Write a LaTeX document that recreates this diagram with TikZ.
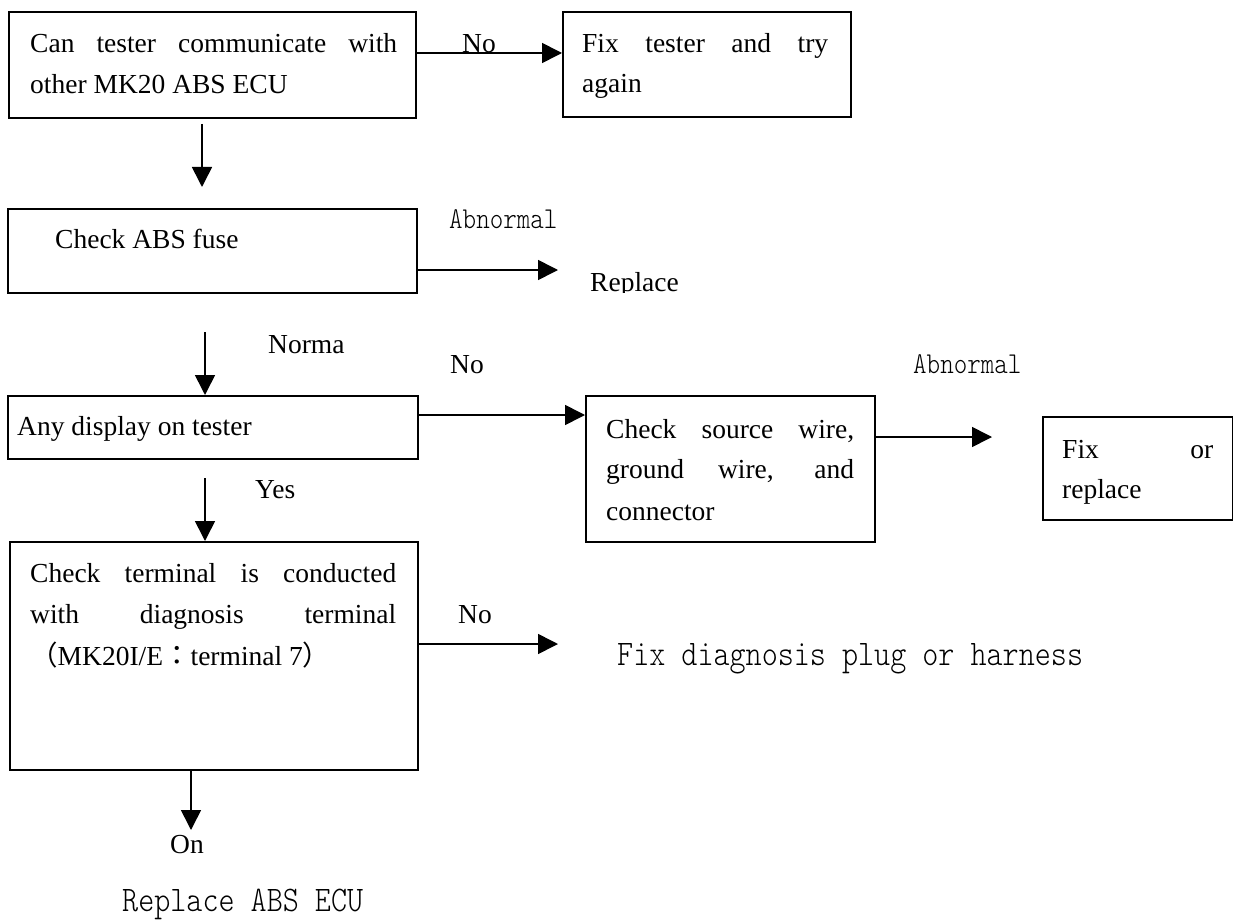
\documentclass[tikz,border=0pt]{standalone}
\usepackage{fontspec}
\setmainfont{Liberation Serif}
\newfontfamily\monof{lmmonolt10-regular.otf}[FakeStretch=0.85]
\newfontfamily\cjk{Noto Sans CJK TC}
\usetikzlibrary{arrows.meta}
\newcommand\jl[2]{\makebox[#1pt][s]{#2}}
\tikzset{
  boxst/.style={draw=black, line width=1.6pt, rectangle, inner sep=0pt, anchor=north west},
  txt/.style={anchor=base west, inner sep=0pt, font=\fontsize{27.5}{33}\selectfont},
  monobig/.style={anchor=base west, inner sep=0pt, font=\monof\fontsize{36}{43}\selectfont},
  monosmall/.style={anchor=base west, inner sep=0pt, font=\monof\fontsize{30.3}{36}\selectfont},
  arr/.style={line width=1.6pt, -{Triangle[length=20pt,width=20pt]}},
}
\begin{document}
\begin{tikzpicture}[x=1pt,y=-1pt]
\useasboundingbox (0,0) rectangle (1233,920);
% boxes
\node[boxst, minimum width=407pt, minimum height=106pt] (b1) at (8,11) {};
\node[boxst, minimum width=288pt, minimum height=105pt] (b2) at (562,11) {};
\node[boxst, minimum width=409pt, minimum height=84pt] (b3) at (7,208) {};
\node[boxst, minimum width=410pt, minimum height=63pt] (b4) at (7,395) {};
\node[boxst, minimum width=289pt, minimum height=146pt] (b5) at (585,395) {};
\node[boxst, minimum width=190pt, minimum height=103pt] (b6) at (1042,416) {};
\node[boxst, minimum width=408pt, minimum height=228pt] (b7) at (9,541) {};
% box texts
\node[txt] (t1a) at (30,53) {\jl{367}{Can tester communicate with}};
\node[txt] (t1b) at (30,94) {other MK20 ABS ECU};
\node[txt] (t2a) at (582,53) {\jl{246}{Fix tester and try}};
\node[txt] (t2b) at (582,93) {again};
\node[txt] (t3) at (55,248) {Check ABS fuse};
\node[txt] (t4) at (17,435) {Any display on tester};
\node[txt] (t5a) at (606,438) {\jl{248}{Check source wire,}};
\node[txt] (t5b) at (606,478) {\jl{248}{ground wire, and}};
\node[txt] (t5c) at (606,520) {connector};
\node[txt] (t6a) at (1062,458) {\jl{151}{Fix or}};
\node[txt] (t6b) at (1062,498) {replace};
\node[txt] (t7a) at (30,582) {\jl{366}{Check terminal is conducted}};
\node[txt] (t7b) at (30,623) {\jl{366}{with diagnosis terminal}};
\node[txt] (t7c) at (30,665) {{\cjk （}MK20I/E{\cjk ：}terminal 7{\cjk ）}};
% labels
\node[txt] (l1) at (462,53) {No};
\node[monosmall] (l2) at (449,228) {Abnormal};
\begin{scope}
\clip (0,0) rectangle (1233,292);
\node[txt] (l3) at (590,291) {Replace};
\end{scope}
\node[txt] (l4) at (268,353) {Norma};
\node[txt] (l5) at (450,373) {No};
\node[monosmall] (l6) at (913,373) {Abnormal};
\node[txt] (l7) at (255,498) {Yes};
\node[txt] (l8) at (458,623) {No};
\node[monobig] (l9) at (617,665) {Fix diagnosis plug or harness};
\node[txt] (l10) at (170,853) {On};
\node[monobig] (l11) at (122,911) {Replace ABS ECU};
% free arrow ends
\coordinate (a1s) at (202,124);
\coordinate (a1e) at (202,187);
\coordinate (a3e) at (558,270);
\coordinate (a2s) at (205,332);
\coordinate (a5e) at (992,437);
\coordinate (a6s) at (205,478);
\coordinate (a7e) at (558,644);
\coordinate (a8e) at (191,830);
% connectors
\draw[arr] (b1.east |- 0,53) -- (b2.west |- 0,53);
\draw[arr] (a1s) -- (a1e);
\draw[arr] (b3.east |- 0,270) -- (a3e);
\draw[arr] (a2s) -- (b4.north -| a2s);
\draw[arr] (b4.east |- 0,415) -- (b5.west |- 0,415);
\draw[arr] (b5.east |- 0,437) -- (a5e);
\draw[arr] (a6s) -- (b7.north -| a6s);
\draw[arr] (b7.east |- 0,644) -- (a7e);
\draw[arr] (b7.south -| a8e) -- (a8e);
\end{tikzpicture}
\end{document}
